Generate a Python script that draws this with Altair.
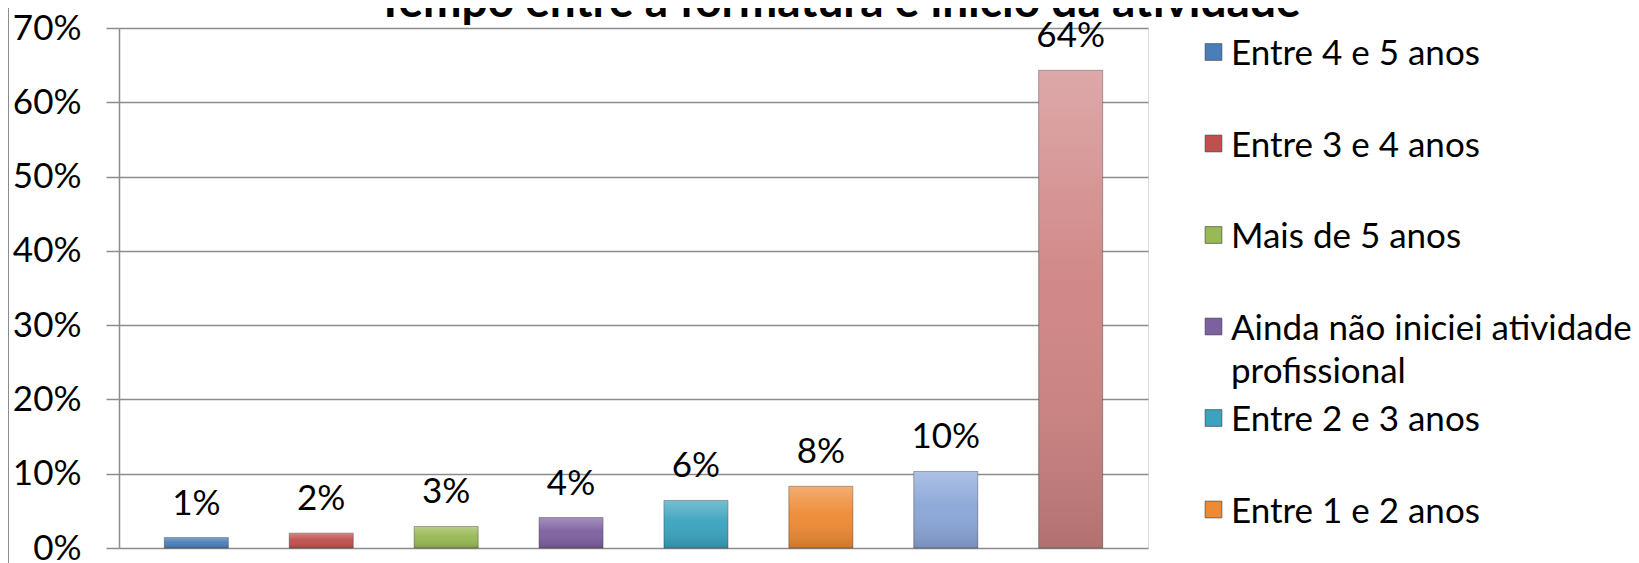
import altair as alt
import pandas as pd

# ---- data ----
categories = [
    "Entre 4 e 5 anos",
    "Entre 3 e 4 anos",
    "Mais de 5 anos",
    "Ainda não iniciei atividade profissional",
    "Entre 2 e 3 anos",
    "Entre 1 e 2 anos",
    "Antes da formatura",
    "Menos de 1 ano",
]
values = [0.014, 0.020, 0.029, 0.041, 0.064, 0.083, 0.103, 0.643]
colors = ["#4A7EBB", "#C0504D", "#98B954", "#7D60A0", "#3AA3BF", "#EE8A34", "#8AA6D8", "#CF8383"]
legend_labels = [
    "Entre 4 e 5 anos",
    "Entre 3 e 4 anos",
    "Mais de 5 anos",
    "Ainda não iniciei atividade\nprofissional",
    "Entre 2 e 3 anos",
    "Entre 1 e 2 anos",
]
y_ticks = [0, 0.1, 0.2, 0.3, 0.4, 0.5, 0.6, 0.7]
title_text = "Tempo entre a formatura e início da atividade"

FONT = "Lato"
FS = 35

df = pd.DataFrame({"cat": categories, "value": values})
leg = pd.DataFrame({
    "cat": categories[: len(legend_labels)],
    "label": legend_labels,
    "rank": list(range(len(legend_labels))),
})

color_enc = alt.Color("cat:N", scale=alt.Scale(domain=categories, range=colors), legend=None)
x_enc = alt.X("cat:N", sort=categories, axis=None,
              scale=alt.Scale(paddingInner=0.488, paddingOuter=0.363))
y_enc = alt.Y("value:Q", scale=alt.Scale(domain=[0, 0.7], nice=False),
              axis=alt.Axis(values=y_ticks, format=".0%", title=None,
                            labelFont=FONT, labelFontSize=FS, labelColor="#000000",
                            labelPadding=25, tickSize=13, tickColor="#8C8C8C", tickWidth=1.5,
                            domainColor="#8C8C8C", domainWidth=1.5,
                            gridColor="#8C8C8C", gridWidth=1.5))

base = alt.Chart(df)
bars = base.mark_bar(stroke="#3a3a3a", strokeWidth=0.8, strokeOpacity=0.6).encode(
    x=x_enc, y=y_enc, color=color_enc)
shade = base.mark_bar(
    color=alt.Gradient(
        gradient="linear", x1=0, x2=0, y1=0, y2=1,
        stops=[
            alt.GradientStop(color="rgba(255,255,255,0.30)", offset=0),
            alt.GradientStop(color="rgba(255,255,255,0.04)", offset=0.45),
            alt.GradientStop(color="rgba(0,0,0,0.14)", offset=1),
        ],
    )
).encode(x=x_enc, y=y_enc)
labels = base.mark_text(baseline="alphabetic", dy=-23, font=FONT, fontSize=FS, color="#000000").encode(
    x=x_enc, y=y_enc, text=alt.Text("value:Q", format=".0%"))

main = alt.layer(bars, shade, labels)

leg_y = alt.Y("rank:O", axis=None, scale=alt.Scale(type="point", range=[24, 481.5], padding=0))
leg_sq = alt.Chart(leg).mark_square(size=280, opacity=1, stroke="#333333", strokeWidth=0.6).encode(
    x=alt.value(1094.5), y=leg_y, color=color_enc)
leg_txt = alt.Chart(leg).mark_text(align="left", baseline="top", dy=-15, lineBreak="\n",
                                   lineHeight=43, font=FONT, fontSize=FS, color="#000000").encode(
    x=alt.value(1112), y=leg_y, text="label:N")

border = alt.Chart(df).mark_rule(color="#8C8C8C", strokeWidth=1.5).encode(
    x=alt.value(-111), y=alt.value(-20), y2=alt.value(535))

chart = alt.layer(main, leg_sq, leg_txt, border).resolve_scale(y="independent").properties(
    width=1029, height=520,
    autosize=alt.AutoSizeParams(type="none"),
    padding={"left": 111, "top": 20, "right": 483, "bottom": 15},
    title=alt.Title(title_text, font=FONT, fontSize=46, fontWeight="bold", color="#000000",
                    anchor="middle", dx=205, dy=33, offset=13),
).configure_view(strokeOpacity=0).configure(font=FONT)

chart.save("out.html", embed_options={"renderer": "svg", "actions": False})
